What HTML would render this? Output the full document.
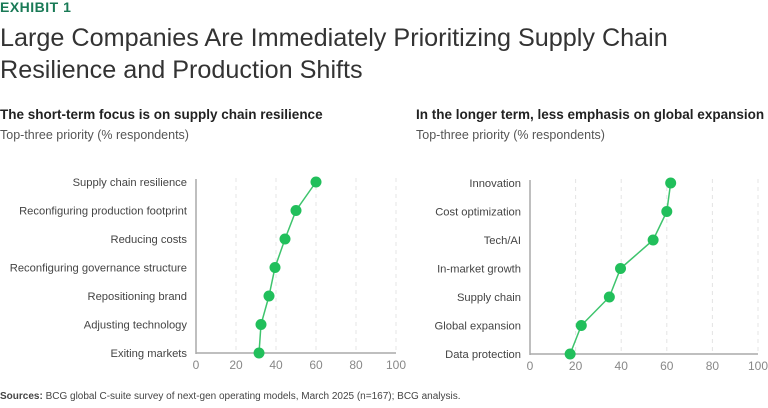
<!DOCTYPE html>
<html><head><meta charset="utf-8"><style>
body{margin:0;width:768px;height:408px;background:#fff;font-family:"Liberation Sans",sans-serif;overflow:hidden;position:relative}
.t{position:absolute;white-space:nowrap}
</style></head><body>
<div class="t" style="left:0;top:-1px;font-size:14px;font-weight:bold;color:#197a56;letter-spacing:0.5px">EXHIBIT 1</div>
<div class="t" style="left:0;top:22px;font-size:25.2px;line-height:32px;color:#333;font-weight:300">Large Companies Are Immediately Prioritizing Supply Chain<br>Resilience and Production Shifts</div>
<div class="t" style="left:0;top:107px;font-size:13.5px;font-weight:bold;color:#222">The short-term focus is on supply chain resilience</div>
<div class="t" style="left:0;top:128px;font-size:12.5px;color:#555">Top-three priority (% respondents)</div>
<div class="t" style="left:416px;top:107px;font-size:13.5px;font-weight:bold;color:#222">In the longer term, less emphasis on global expansion</div>
<div class="t" style="left:416px;top:128px;font-size:12.5px;color:#555">Top-three priority (% respondents)</div>
<div class="t" style="left:0;top:391px;font-size:10px;color:#444"><b>Sources:</b> BCG global C-suite survey of next-gen operating models, March 2025 (n=167); BCG analysis.</div>
<svg id="chart" width="768" height="408" style="position:absolute;left:0;top:0"></svg>
<script>
const leftCategories=["Supply chain resilience","Reconfiguring production footprint","Reducing costs","Reconfiguring governance structure","Repositioning brand","Adjusting technology","Exiting markets"];
const leftValues=[60,50,44.5,39.5,36.5,32.5,31.5];
const rightCategories=["Innovation","Cost optimization","Tech/AI","In-market growth","Supply chain","Global expansion","Data protection"];
const rightValues=[61.7,60,54,39.7,34.8,22.5,17.6];
const tickLabels=[0,20,40,60,80,100];
const svg=document.getElementById('chart');
const NS='http://www.w3.org/2000/svg';
function mk(tag,attrs){const e=document.createElementNS(NS,tag);for(const k in attrs)e.setAttribute(k,attrs[k]);svg.appendChild(e);return e;}
function panel(cats,vals,x0,x1,yTop,yBot,prefix){
  const xs=v=>x0+(x1-x0)*v/100;
  const ys=i=>yTop+(yBot-yTop)*i/(cats.length-1);
  tickLabels.forEach(t=>{
    if(t>0){const g=mk('line',{x1:xs(t),x2:xs(t),y1:yTop-4,y2:yBot,stroke:'#e4e4e4','stroke-dasharray':'4,4'});
    
    }
    const tl=mk('text',{x:xs(t),y:yBot+16,'text-anchor':'middle','font-size':12,fill:'#888','font-family':'Liberation Sans, sans-serif'});
    tl.textContent=t;
    
    
  });
  const ax=mk('line',{x1:x0,x2:x0,y1:yTop-3,y2:yBot+1,stroke:'#aaa','stroke-width':1.5});
  
  
  const bx=mk('line',{x1:x0,x2:x1,y1:yBot,y2:yBot,stroke:'#aaa','stroke-width':1.5});
  
  
  cats.forEach((c,i)=>{
    const tx=mk('text',{x:x0-9,y:ys(i)+4,'text-anchor':'end','font-size':11.2,fill:'#444','font-family':'Liberation Sans, sans-serif'});
    tx.textContent=c;
    
    
  });
  const pts=vals.map((v,i)=>xs(v)+','+ys(i)).join(' ');
  const pl=mk('polyline',{points:pts,fill:'none',stroke:'#3ec46d','stroke-width':1.5});
  
  
  vals.forEach((v,i)=>{
    const c=mk('circle',{cx:xs(v),cy:ys(i),r:5.5,fill:'#21bf5b'});
    
    
  });
}
panel(leftCategories,leftValues,196,396,182,353,'left');
panel(rightCategories,rightValues,530,758,183,354,'right');
</script>
</body></html>
